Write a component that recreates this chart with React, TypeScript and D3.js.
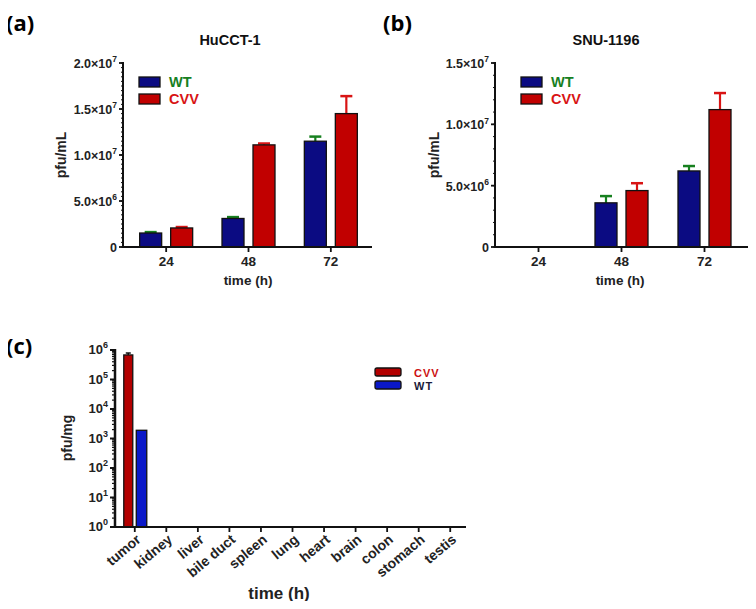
import React, { useEffect, useRef } from "react";
import * as d3 from "d3";

// panels (a) and (b): virus titre by time point
const timepoints = ["24", "48", "72"];
const hucctWT = [1.52e6, 3.1e6, 1.15e7];
const hucctWTErr = [0.1e6, 0.15e6, 0.5e6];
const hucctCVV = [2.07e6, 1.11e7, 1.45e7];
const hucctCVVErr = [0.1e6, 0.15e6, 1.9e6];

const snuWT = [0, 3.6e6, 6.2e6];
const snuWTErr = [0, 0.55e6, 0.4e6];
const snuCVV = [0, 4.6e6, 1.12e7];
const snuCVVErr = [0, 0.6e6, 1.35e6];

const linearTicks = [0, 5e6, 1e7, 1.5e7, 2e7];
const linearTickLabels = ["0", "5.0×10|6", "1.0×10|7", "1.5×10|7", "2.0×10|7"];

// panel (c): tissue distribution
const organs = ["tumor", "kidney", "liver", "bile duct", "spleen", "lung", "heart", "brain", "colon", "stomach", "testis"];
const organCVV = [6.8e5, 0, 0, 0, 0, 0, 0, 0, 0, 0, 0];
const organCVVErr = [1.1e5, 0, 0, 0, 0, 0, 0, 0, 0, 0, 0];
const organWT = [1.9e3, 0, 0, 0, 0, 0, 0, 0, 0, 0, 0];
const logTicks = [1, 10, 100, 1e3, 1e4, 1e5, 1e6];
const logTickLabels = ["10|0", "10|1", "10|2", "10|3", "10|4", "10|5", "10|6"];

const FONT = "'Liberation Sans', Arial, sans-serif";
const NAVY = "#0b0b82";
const RED = "#c10000";
const GREEN = "#17801f";
const ERR_RED = "#d81414";

function supLabel(sel: any, label: string, size: number, supSize: number) {
  const [base, sup] = label.split("|");
  sel.append("tspan").text(base);
  if (sup !== undefined) {
    sel.append("tspan").attr("dy", -size * 0.45).attr("font-size", supSize).text(sup);
  }
}

function barPanel(svg: any, o: any) {
  const g = svg.append("g");
  const x = d3.scaleBand().domain(timepoints).range(o.xRange);
  const y = d3.scaleLinear().domain([0, o.yMax]).range([247, 63]);

  g.append("text").attr("x", o.tagX).attr("y", 31).attr("font-family", "'Open Sans', sans-serif")
    .attr("font-size", 22).attr("font-weight", "bold").text(o.tag);
  g.append("text").attr("x", o.titleX).attr("y", 45).attr("text-anchor", "middle")
    .attr("font-family", FONT).attr("font-weight", "bold").attr("font-size", 14.5).attr("fill", "#111").text(o.title);

  // bars
  const bw = 22;
  const series = [
    { vals: o.wt, errs: o.wtErr, fill: NAVY, err: GREEN, dx: -bw - 4.5 },
    { vals: o.cvv, errs: o.cvvErr, fill: RED, err: ERR_RED, dx: 4.5 },
  ];
  series.forEach((s) => {
    timepoints.forEach((t, i) => {
      if (!s.vals[i]) return;
      const cx = (x(t) as number) + x.bandwidth() / 2;
      const bx = cx + s.dx;
      const top = y(s.vals[i] + s.errs[i]);
      g.append("line").attr("x1", bx + bw / 2).attr("x2", bx + bw / 2).attr("y1", y(s.vals[i])).attr("y2", top)
        .attr("stroke", s.err).attr("stroke-width", 2.2);
      g.append("line").attr("x1", bx + bw / 2 - 6).attr("x2", bx + bw / 2 + 6).attr("y1", top).attr("y2", top)
        .attr("stroke", s.err).attr("stroke-width", 2.5);
      g.append("rect").attr("x", bx).attr("y", y(s.vals[i])).attr("width", bw)
        .attr("height", y(0) - y(s.vals[i])).attr("fill", s.fill).attr("stroke", "#111").attr("stroke-width", 1.3);
    });
  });

  // y axis
  const x0 = o.xRange[0] - 2;
  d3.range(0, o.yMax + 1, o.minorStep).forEach((v) => {
    g.append("line").attr("x1", x0 - 2).attr("x2", x0).attr("y1", y(v)).attr("y2", y(v))
      .attr("stroke", "#111").attr("stroke-width", 1);
  });
  linearTicks.filter((v) => v <= o.yMax).forEach((v) => {
    g.append("line").attr("x1", x0 - 4).attr("x2", x0).attr("y1", y(v)).attr("y2", y(v))
      .attr("stroke", "#111").attr("stroke-width", 1.8);
    const t = g.append("text").attr("x", x0 - 6).attr("y", y(v) + 5).attr("text-anchor", "end")
      .attr("font-family", FONT).attr("font-weight", "bold").attr("font-size", 12.5).attr("fill", "#222");
    supLabel(t, linearTickLabels[linearTicks.indexOf(v)], 12.5, 8.5);
  });
  g.append("line").attr("x1", x0).attr("x2", x0).attr("y1", 62).attr("y2", 248)
    .attr("stroke", "#111").attr("stroke-width", 2);

  // x axis
  g.append("line").attr("x1", x0 - 1).attr("x2", o.xEnd).attr("y1", 247).attr("y2", 247)
    .attr("stroke", "#111").attr("stroke-width", 2);
  timepoints.forEach((t) => {
    const cx = (x(t) as number) + x.bandwidth() / 2;
    g.append("line").attr("x1", cx).attr("x2", cx).attr("y1", 247).attr("y2", 252)
      .attr("stroke", "#111").attr("stroke-width", 1.8);
    g.append("text").attr("x", cx).attr("y", 266).attr("text-anchor", "middle")
      .attr("font-family", FONT).attr("font-weight", "bold").attr("font-size", 13.5).attr("fill", "#222").text(t);
  });
  g.append("text").attr("x", o.xLabelX).attr("y", 285).attr("text-anchor", "middle")
    .attr("font-family", FONT).attr("font-weight", "bold").attr("font-size", 13.5).attr("fill", "#222").text("time (h)");
  g.append("text").attr("transform", `translate(${o.yLabelX},155) rotate(-90)`).attr("text-anchor", "middle")
    .attr("font-family", FONT).attr("font-weight", "bold").attr("font-size", 14).attr("fill", "#222").text("pfu/mL");

  // legend
  [["WT", NAVY, GREEN], ["CVV", RED, ERR_RED]].forEach(([name, fill, col], i) => {
    g.append("rect").attr("x", o.legendX).attr("y", 77 + i * 17).attr("width", 21).attr("height", 10)
      .attr("fill", fill).attr("stroke", "#111").attr("stroke-width", 1.3);
    g.append("text").attr("x", o.legendX + 30).attr("y", 87 + i * 17).attr("font-family", FONT)
      .attr("font-weight", "bold").attr("font-size", 14.5).attr("fill", col).text(name);
  });
}

function logPanel(svg: any) {
  const g = svg.append("g");
  const x = d3.scaleBand().domain(organs).range([119, 466]);
  const y = d3.scaleLog().domain([1, 1e6]).range([527, 350]);

  g.append("text").attr("x", 6).attr("y", 354).attr("font-family", "'Open Sans', sans-serif")
    .attr("font-size", 22).attr("font-weight", "bold").text("(c)");

  // bars
  organs.forEach((org, i) => {
    const cx = (x(org) as number) + x.bandwidth() / 2;
    if (organCVV[i]) {
      const top = y(organCVV[i] + organCVVErr[i]);
      g.append("line").attr("x1", cx - 6.5).attr("x2", cx - 6.5).attr("y1", y(organCVV[i])).attr("y2", top)
        .attr("stroke", "#111").attr("stroke-width", 1.5);
      g.append("line").attr("x1", cx - 9).attr("x2", cx - 4).attr("y1", top).attr("y2", top)
        .attr("stroke", "#111").attr("stroke-width", 1.5);
      g.append("rect").attr("x", cx - 11).attr("y", y(organCVV[i])).attr("width", 9)
        .attr("height", y(1) - y(organCVV[i])).attr("fill", "#b30000").attr("stroke", "#111").attr("stroke-width", 1.3);
    }
    if (organWT[i]) {
      g.append("rect").attr("x", cx + 1.5).attr("y", y(organWT[i])).attr("width", 10.5)
        .attr("height", y(1) - y(organWT[i])).attr("fill", "#0a18c8").attr("stroke", "#111").attr("stroke-width", 1.3);
    }
  });

  // y axis with log minor ticks
  const x0 = 115;
  for (let d = 0; d < 6; d++) {
    for (let m = 2; m <= 9; m++) {
      const v = m * Math.pow(10, d);
      g.append("line").attr("x1", x0 - 3).attr("x2", x0).attr("y1", y(v)).attr("y2", y(v))
        .attr("stroke", "#111").attr("stroke-width", 1.2);
    }
  }
  logTicks.forEach((v, i) => {
    g.append("line").attr("x1", x0 - 5).attr("x2", x0).attr("y1", y(v)).attr("y2", y(v))
      .attr("stroke", "#111").attr("stroke-width", 2);
    const t = g.append("text").attr("x", x0 - 7).attr("y", y(v) + 4).attr("text-anchor", "end")
      .attr("font-family", FONT).attr("font-weight", "bold").attr("font-size", 13).attr("fill", "#222");
    supLabel(t, logTickLabels[i], 13, 9);
  });
  g.append("line").attr("x1", x0).attr("x2", x0).attr("y1", 349).attr("y2", 528)
    .attr("stroke", "#111").attr("stroke-width", 2.5);
  g.append("line").attr("x1", x0 - 1).attr("x2", 466).attr("y1", 527).attr("y2", 527)
    .attr("stroke", "#111").attr("stroke-width", 2);
  organs.forEach((org) => {
    const cx = (x(org) as number) + x.bandwidth() / 2;
    g.append("line").attr("x1", cx).attr("x2", cx).attr("y1", 527).attr("y2", 532)
      .attr("stroke", "#111").attr("stroke-width", 1.8);
    g.append("text").attr("transform", `translate(${cx + 7},${541}) rotate(-40)`).attr("text-anchor", "end")
      .attr("font-family", FONT).attr("font-weight", "bold").attr("font-size", 14).attr("fill", "#222").text(org);
  });
  g.append("text").attr("x", 279).attr("y", 599).attr("text-anchor", "middle").attr("font-family", FONT)
    .attr("font-weight", "bold").attr("font-size", 17).attr("fill", "#222").text("time (h)");
  g.append("text").attr("transform", "translate(72,438) rotate(-90)").attr("text-anchor", "middle")
    .attr("font-family", FONT).attr("font-weight", "bold").attr("font-size", 14).attr("fill", "#222").text("pfu/mg");

  // legend
  [["CVV", "#b30000", "#cc1111"], ["WT", "#0a18c8", "#1a1a3a"]].forEach(([name, fill, col], i) => {
    g.append("rect").attr("x", 375).attr("y", 368 + i * 13).attr("width", 26).attr("height", 8).attr("rx", 2)
      .attr("fill", fill).attr("stroke", "#111").attr("stroke-width", 1.3);
    g.append("text").attr("x", 414).attr("y", 377 + i * 13).attr("font-family", FONT)
      .attr("font-weight", "bold").attr("font-size", 11).attr("letter-spacing", 1).attr("fill", col).text(name);
  });
}

export default function App() {
  const ref = useRef<SVGSVGElement>(null);

  useEffect(() => {
    const svg = d3.select(ref.current);
    svg.selectAll("*").remove();

    barPanel(svg, {
      tag: "(a)", tagX: 6, title: "HuCCT-1", titleX: 230,
      xRange: [125, 372], xEnd: 372, yMax: 2e7, minorStep: 5e5,
      wt: hucctWT, wtErr: hucctWTErr, cvv: hucctCVV, cvvErr: hucctCVVErr,
      xLabelX: 248, yLabelX: 66, legendX: 139,
    });
    barPanel(svg, {
      tag: "(b)", tagX: 383, title: "SNU-1196", titleX: 606,
      xRange: [497, 746], xEnd: 750, yMax: 1.5e7, minorStep: 1e6,
      wt: snuWT, wtErr: snuWTErr, cvv: snuCVV, cvvErr: snuCVVErr,
      xLabelX: 620, yLabelX: 439, legendX: 521,
    });
    logPanel(svg);
  }, []);

  return (
    <div style={{ margin: -8 }}>
      <svg ref={ref} width={756} height={609} style={{ display: "block", background: "#fff" }} />
    </div>
  );
}
